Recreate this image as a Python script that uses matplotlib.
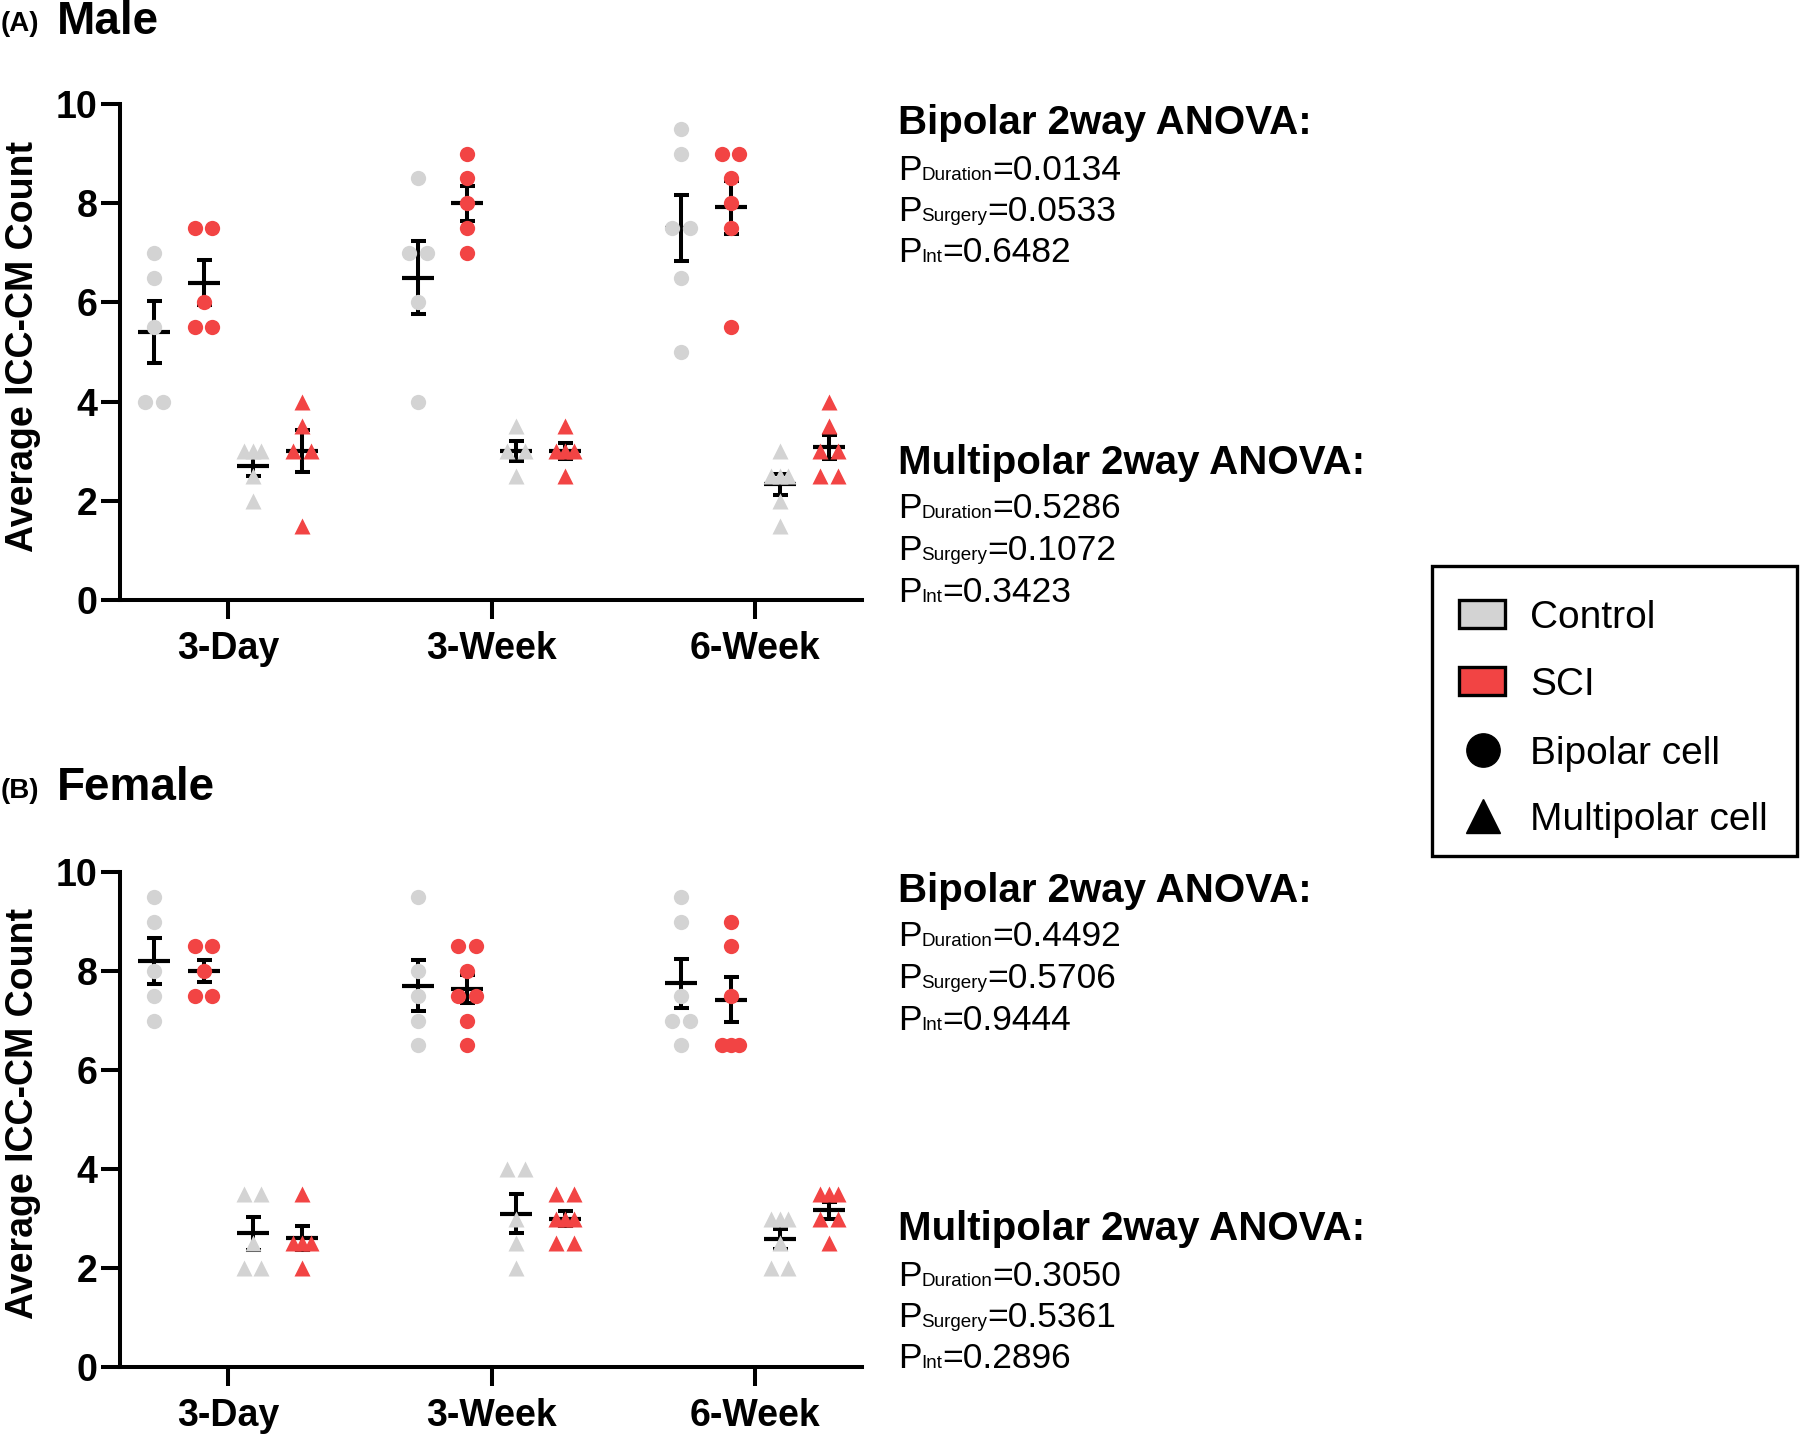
import numpy as np
import matplotlib
matplotlib.use('Agg')
import matplotlib.pyplot as plt
from matplotlib.patches import Rectangle
from matplotlib.lines import Line2D

plt.rcParams['font.family'] = ['Liberation Sans', 'DejaVu Sans']

W, H = 1800, 1435

# ---- data ----
groups = ['3-Day', '3-Week', '6-Week']

male_bip_ctrl = [[7, 6.5, 5.5, 4, 4], [8.5, 7, 7, 6, 4], [9.5, 9, 7.5, 7.5, 6.5, 5]]
male_bip_sci = [[7.5, 7.5, 6, 5.5, 5.5], [9, 8.5, 8, 7.5, 7], [9, 9, 8.5, 8, 7.5, 5.5]]
male_mul_ctrl = [[3, 3, 3, 2.5, 2], [3.5, 3, 3, 2.5], [3, 2.5, 2.5, 2.5, 2, 1.5]]
male_mul_sci = [[4, 3.5, 3, 3, 1.5], [3.5, 3, 3, 3, 2.5], [4, 3.5, 3, 3, 2.5, 2.5]]

fem_bip_ctrl = [[9.5, 9, 8, 7.5, 7], [9.5, 8, 7.5, 7, 6.5], [9.5, 9, 7.5, 7, 7, 6.5]]
fem_bip_sci = [[8.5, 8.5, 8, 7.5, 7.5], [8.5, 8.5, 8, 7.5, 7.5, 7, 6.5], [9, 8.5, 7.5, 6.5, 6.5, 6.5]]
fem_mul_ctrl = [[3.5, 3.5, 2.5, 2, 2], [4, 4, 3, 2.5, 2], [3, 3, 3, 2.5, 2, 2]]
fem_mul_sci = [[3.5, 2.5, 2.5, 2.5, 2], [3.5, 3.5, 3, 3, 3, 2.5, 2.5], [3.5, 3.5, 3.5, 3, 3, 2.5]]

stat_terms = ['Duration', 'Surgery', 'Int']
male_bip_p = ['0.0134', '0.0533', '0.6482']
male_mul_p = ['0.5286', '0.1072', '0.3423']
fem_bip_p = ['0.4492', '0.5706', '0.9444']
fem_mul_p = ['0.3050', '0.5361', '0.2896']

legend_labels = ['Control', 'SCI', 'Bipolar cell', 'Multipolar cell']

grey = '#D3D3D3'
red = '#F24444'


def jitter(vals):
    vals = np.asarray(vals, float)
    offs = np.zeros(len(vals))
    for v in np.unique(vals):
        idx = np.where(vals == v)[0]
        k = len(idx)
        step = 0.068 if k == 2 else 0.034
        offs[idx] = (np.arange(k) - (k - 1) / 2) * step
    return offs


def draw_panel(ax, series):
    offsets = [-0.28, -0.093, 0.093, 0.28]
    for (data, color, marker), off in zip(series, offsets):
        for i, vals in enumerate(data):
            x0 = i + off
            vals = np.asarray(vals, float)
            m = vals.mean()
            s = vals.std(ddof=1) / np.sqrt(len(vals))
            ax.errorbar(x0, m, yerr=s, fmt='none', ecolor='k', elinewidth=2.9,
                        capsize=5.4, capthick=2.9, zorder=2)
            ax.plot([x0], [m], marker='_', ms=23, mew=3, color='k', zorder=2)
            ax.plot(x0 + jitter(vals), vals, ls='none', marker=marker, ms=11,
                    color=color, mec='none', zorder=3, clip_on=False)
    ax.set_xlim(-0.41, 2.406)
    ax.set_ylim(0, 10)
    ax.set_yticks([0, 2, 4, 6, 8, 10])
    ax.set_xticks([0, 1, 2])
    ax.set_xticklabels(groups, fontsize=27, fontweight='bold')
    for lab in ax.get_yticklabels():
        lab.set_fontsize(27)
        lab.set_fontweight('bold')
    ax.spines['top'].set_visible(False)
    ax.spines['right'].set_visible(False)
    for sp in ['left', 'bottom']:
        ax.spines[sp].set_linewidth(2.9)
    ax.tick_params(axis='both', length=14, width=2.9)
    ax.tick_params(axis='y', pad=2)
    ax.tick_params(axis='x', pad=8.5)
    ax.set_ylabel('Average ICC-CM Count', fontsize=27, fontweight='bold')
    ax.yaxis.set_label_coords(-0.106, 0.512)


fig = plt.figure(figsize=(18, 14.35), dpi=100)
axA = fig.add_axes([120 / W, 1 - 600 / H, 742 / W, 496 / H])
axB = fig.add_axes([120 / W, 1 - 1367 / H, 742 / W, 495 / H])

draw_panel(axA, [(male_bip_ctrl, grey, 'o'), (male_bip_sci, red, 'o'),
                 (male_mul_ctrl, grey, '^'), (male_mul_sci, red, '^')])
draw_panel(axB, [(fem_bip_ctrl, grey, 'o'), (fem_bip_sci, red, 'o'),
                 (fem_mul_ctrl, grey, '^'), (fem_mul_sci, red, '^')])

renderer = fig.canvas.get_renderer()


def ftext(x, y, s, **kw):
    kw.setdefault('va', 'baseline')
    return fig.text(x / W, 1 - y / H, s, **kw)


def p_block(x, y, header, pvals):
    ftext(x, y, header, fontsize=29, fontweight='bold')
    for j, (term, val) in enumerate(zip(stat_terms, pvals)):
        yy = y + 45 + j * 41.5
        xx = x
        t = ftext(xx, yy, 'P', fontsize=25.5)
        xx += t.get_window_extent(renderer).width
        t = ftext(xx, yy, term, fontsize=13.6)
        xx += t.get_window_extent(renderer).width
        ftext(xx, yy, '=' + val, fontsize=25.5)


for dy, tag, name, bp, mp in [(0, '(A)', 'Male', male_bip_p, male_mul_p),
                              (767, '(B)', 'Female', fem_bip_p, fem_mul_p)]:
    ftext(1, 31 + dy, tag, fontsize=20, fontweight='bold')
    ftext(57, 33.5 + dy, name, fontsize=33, fontweight='bold')
    p_block(898, 134.5 + dy, 'Bipolar 2way ANOVA:', bp)
    p_block(898, 473.5 + dy, 'Multipolar 2way ANOVA:', mp)

# ---- legend box drawn by hand ----
fig.add_artist(Rectangle((1432 / W, 1 - 856 / H), 365 / W, 290 / H,
                         transform=fig.transFigure, facecolor='white',
                         edgecolor='k', linewidth=2.4))
row_y = [614, 681, 750, 816]
for yc, fc in zip(row_y[:2], [grey, red]):
    fig.add_artist(Rectangle((1459 / W, 1 - (yc + 14) / H), 46 / W, 28 / H,
                             transform=fig.transFigure, facecolor=fc,
                             edgecolor='k', linewidth=2.4))
for yc, mk, ms in zip(row_y[2:], ['o', '^'], [24, 24]):
    fig.add_artist(Line2D([1483 / W], [1 - yc / H], transform=fig.transFigure,
                          ls='none', marker=mk, ms=ms, color='k'))
for yc, lab in zip(row_y, legend_labels):
    ftext(1530, yc, lab, fontsize=28, va='center_baseline')

fig.savefig('out.png', dpi=100)
